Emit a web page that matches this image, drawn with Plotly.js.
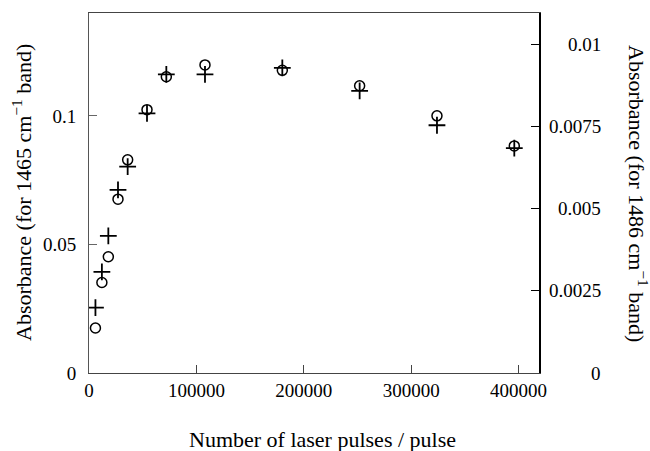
<!DOCTYPE html>
<html>
<head>
<meta charset="utf-8">
<script src="https://cdn.plot.ly/plotly-3.0.1.min.js"></script>
<style>
html, body { margin: 0; padding: 0; background: #fff; }
#chart { width: 650px; height: 451px; }
svg text, text, tspan { font-family: 'Liberation Serif', 'Times New Roman', serif !important; }
</style>
</head>
<body>
<div id="chart"></div>
<script>
// Number of laser pulses
var pulses = [6000, 12000, 18000, 27000, 36000, 54000, 72000, 108000, 180000, 252000, 324000, 396000];
// Absorbance of 1465 cm-1 band (circles, left axis)
var abs1465 = [0.0175, 0.0352, 0.0452, 0.0676, 0.0829, 0.1024, 0.1152, 0.1198, 0.1177, 0.1117, 0.1000, 0.0883];
// Absorbance of 1486 cm-1 band (crosses, right axis)
var abs1486 = [0.00199, 0.00308, 0.00418, 0.00558, 0.00629, 0.00791, 0.00910, 0.00910, 0.00930, 0.00860, 0.00755, 0.00685];

var xTickVals = [0, 100000, 200000, 300000, 400000];
var xTickText = ['0', '100000', '200000', '300000', '400000'];
var yTickVals = [0, 0.05, 0.1];
var yTickText = ['0', '0.05', '0.1'];
var y2TickVals = [0, 0.0025, 0.005, 0.0075, 0.01];
var y2TickText = ['0', '0.0025', '0.005', '0.0075', '0.01'];

(function () {
  var FAM = 'Liberation Serif';

  var traces = [
    {
      x: pulses, y: abs1465, type: 'scatter', mode: 'markers', yaxis: 'y',
      marker: {symbol: 'circle-open', size: 10, color: '#000', line: {color: '#000', width: 1.5}},
      hoverinfo: 'skip'
    },
    {
      x: pulses, y: abs1486, type: 'scatter', mode: 'markers', yaxis: 'y2',
      marker: {symbol: 'cross-thin-open', size: 12, color: '#000', line: {color: '#000', width: 1.8}},
      hoverinfo: 'skip'
    }
  ];

  var annotations = [];
  for (var i = 0; i < y2TickVals.length; i++) {
    annotations.push({
      xref: 'paper', yref: 'y2', x: 1, y: y2TickVals[i], xanchor: 'right', yanchor: 'middle',
      xshift: 64, text: y2TickText[i], showarrow: false,
      font: {family: FAM, size: 19, color: '#000'}
    });
  }
  annotations.push({
    xref: 'paper', yref: 'paper', x: 0, y: 0.5, xanchor: 'center', yanchor: 'middle',
    xshift: -67, textangle: -90, showarrow: false,
    text: 'Absorbance (for 1465 cm<sup>\u22121</sup> band)',
    font: {family: FAM, size: 22, color: '#000'}
  });
  annotations.push({
    xref: 'paper', yref: 'paper', x: 1, y: 0.5, xanchor: 'center', yanchor: 'middle',
    xshift: 99, textangle: 90, showarrow: false,
    text: 'Absorbance (for 1486 cm<sup>\u22121</sup> band)',
    font: {family: FAM, size: 22, color: '#000'}
  });
  annotations.push({
    xref: 'paper', yref: 'paper', x: 0.5, y: 0, xanchor: 'center', yanchor: 'middle',
    xshift: 8, yshift: -66, showarrow: false,
    text: 'Number of laser pulses / pulse',
    font: {family: FAM, size: 22, color: '#000'}
  });

  var layout = {
    width: 650, height: 451,
    margin: {l: 89, r: 111, t: 13, b: 78, pad: 0},
    paper_bgcolor: '#fff', plot_bgcolor: '#fff',
    showlegend: false,
    font: {family: FAM, size: 19, color: '#000'},
    xaxis: {
      range: [0, 419000], tickvals: xTickVals, ticktext: xTickText,
      ticks: 'inside', ticklen: 8, tickwidth: 1, tickcolor: '#444',
      showline: true, linecolor: '#444', linewidth: 1, mirror: true,
      showgrid: false, zeroline: false,
      tickfont: {family: FAM, size: 19, color: '#000'}
    },
    yaxis: {
      range: [0, 0.14], tickvals: yTickVals, ticktext: yTickText,
      ticks: 'inside', ticklen: 8, tickwidth: 1, tickcolor: '#666',
      showline: true, linecolor: '#555', linewidth: 1,
      showgrid: false, zeroline: false,
      tickfont: {family: FAM, size: 19, color: '#000'},
      ticklabelstandoff: 8
    },
    yaxis2: {
      range: [0, 0.01097], tickvals: y2TickVals, showticklabels: false,
      overlaying: 'y', side: 'right',
      ticks: 'inside', ticklen: 8, tickwidth: 1, tickcolor: '#000',
      showline: true, linecolor: '#000', linewidth: 2,
      showgrid: false, zeroline: false
    },
    annotations: annotations
  };

  Plotly.newPlot('chart', traces, layout, {displayModeBar: false});
})();
</script>
</body>
</html>
